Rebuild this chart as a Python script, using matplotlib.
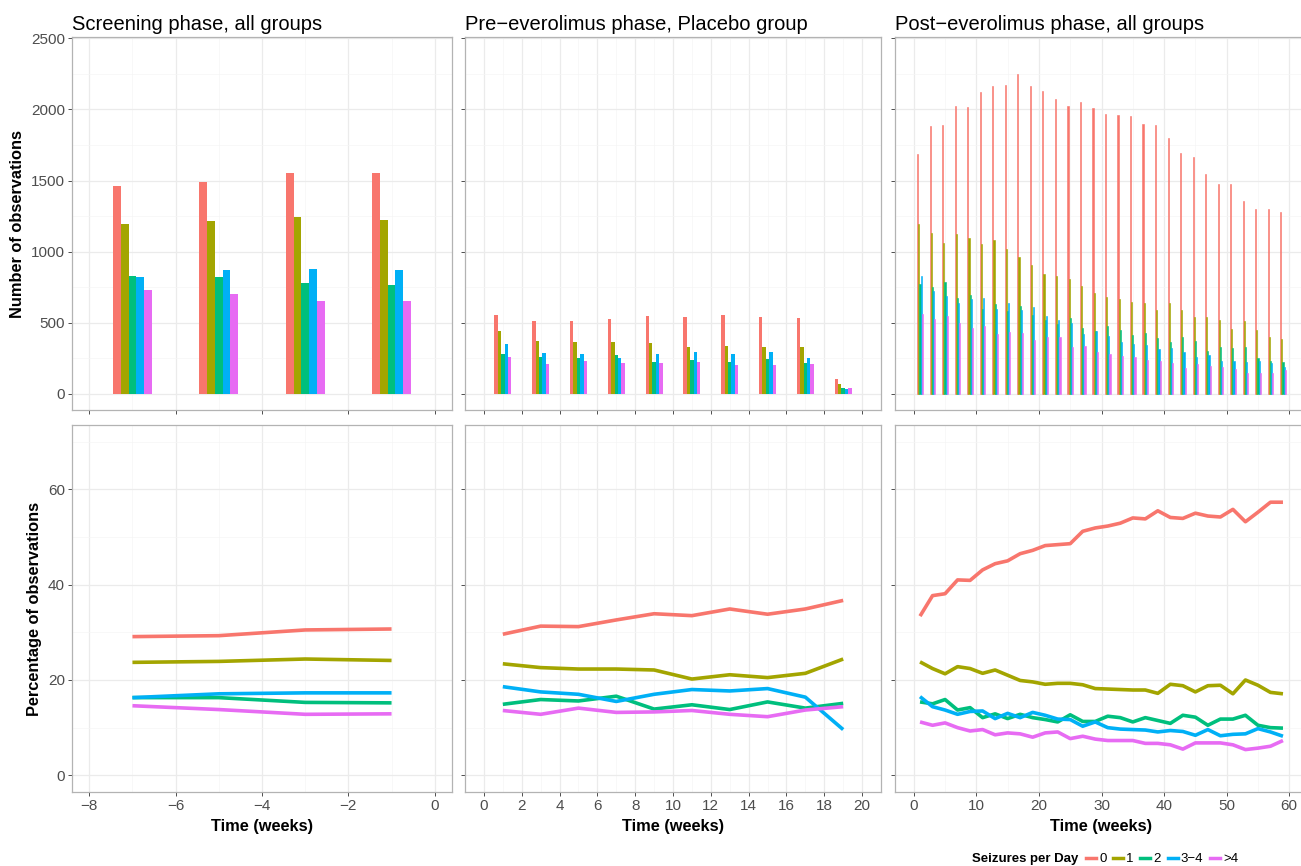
import matplotlib
matplotlib.use('Agg')
import matplotlib.pyplot as plt
from matplotlib.lines import Line2D
from matplotlib.ticker import MultipleLocator

plt.rcParams['font.family'] = ['Liberation Sans', 'DejaVu Sans']

categories = ['0', '1', '2', '3\u22124', '>4']
colors = ['#F8766D', '#A3A500', '#00BF7D', '#00B0F6', '#E76BF3']
titles = ['Screening phase, all groups',
          'Pre\u2212everolimus phase, Placebo group',
          'Post\u2212everolimus phase, all groups']

# screening phase (rows follow categories)
screen_weeks = [-7, -5, -3, -1]
screen_counts = [
    [1458, 1493, 1550, 1554],
    [1194, 1215, 1241, 1220],
    [826, 824, 780, 768],
    [819, 871, 878, 871],
    [733, 698, 651, 651],
]
screen_pct = [
    [29.1, 29.3, 30.5, 30.7],
    [23.7, 23.9, 24.4, 24.1],
    [16.3, 16.3, 15.3, 15.2],
    [16.3, 17.1, 17.3, 17.3],
    [14.6, 13.8, 12.8, 12.9],
]

# pre-everolimus phase, placebo group
pre_weeks = [1, 3, 5, 7, 9, 11, 13, 15, 17, 19]
pre_counts = [
    [557, 510, 508, 527, 548, 541, 555, 541, 531, 101],
    [440, 372, 365, 363, 360, 325, 335, 328, 325, 66],
    [281, 257, 253, 269, 225, 239, 220, 246, 213, 42],
    [349, 288, 276, 253, 276, 290, 281, 290, 248, 30],
    [257, 211, 232, 215, 218, 220, 204, 199, 211, 42],
]
pre_pct = [
    [29.6, 31.3, 31.2, 32.6, 33.9, 33.5, 34.9, 33.8, 34.9, 36.7],
    [23.4, 22.6, 22.3, 22.3, 22.1, 20.2, 21.1, 20.5, 21.4, 24.4],
    [14.9, 15.9, 15.6, 16.6, 13.9, 14.8, 13.8, 15.4, 14.1, 15.1],
    [18.6, 17.5, 17.0, 15.5, 17.0, 18.0, 17.7, 18.2, 16.4, 9.6],
    [13.6, 12.8, 14.1, 13.2, 13.3, 13.6, 12.8, 12.3, 13.7, 14.4],
]

# post-everolimus phase
post_weeks = list(range(1, 60, 2))
post_counts = [
    [1690, 1884, 1891, 2026, 2019, 2123, 2164, 2175, 2251, 2164,
     2128, 2076, 2026, 2055, 2012, 1969, 1962, 1953, 1896, 1891,
     1799, 1697, 1664, 1545, 1476, 1476, 1353, 1303, 1299, 1275],
    [1197, 1130, 1059, 1123, 1097, 1050, 1078, 1021, 962, 903,
     841, 827, 810, 761, 706, 682, 668, 647, 637, 590,
     640, 592, 538, 538, 519, 457, 512, 450, 396, 384],
    [775, 751, 789, 675, 697, 597, 633, 585, 618, 557,
     517, 493, 533, 460, 438, 474, 448, 412, 429, 393,
     367, 396, 370, 303, 327, 318, 325, 249, 230, 220],
    [829, 723, 687, 640, 664, 675, 597, 635, 592, 609,
     545, 517, 498, 419, 438, 403, 367, 351, 344, 315,
     320, 291, 261, 273, 230, 232, 225, 232, 218, 190],
    [562, 528, 545, 498, 462, 479, 419, 431, 427, 379,
     396, 396, 327, 336, 296, 277, 268, 261, 237, 232,
     213, 178, 209, 194, 190, 173, 142, 142, 142, 166],
]
post_pct = [
    [33.4, 37.7, 38.1, 41.0, 40.9, 43.1, 44.4, 45.0, 46.5, 47.2,
     48.2, 48.4, 48.6, 51.2, 51.9, 52.3, 52.9, 54.0, 53.8, 55.5,
     54.1, 53.9, 55.0, 54.4, 54.2, 55.8, 53.2, 55.2, 57.3, 57.3],
    [23.8, 22.4, 21.3, 22.8, 22.4, 21.4, 22.1, 21.0, 19.9, 19.6,
     19.1, 19.3, 19.3, 19.0, 18.2, 18.1, 18.0, 17.9, 17.9, 17.2,
     19.1, 18.8, 17.5, 18.8, 18.9, 17.1, 20.0, 18.9, 17.4, 17.1],
    [15.4, 15.0, 15.9, 13.7, 14.2, 12.1, 12.9, 11.9, 12.8, 12.1,
     11.7, 11.2, 12.7, 11.3, 11.3, 12.4, 12.1, 11.2, 12.1, 11.5,
     10.9, 12.6, 12.2, 10.5, 11.8, 11.8, 12.6, 10.5, 10.0, 9.9],
    [16.5, 14.4, 13.7, 12.8, 13.4, 13.5, 11.9, 13.0, 12.1, 13.2,
     12.6, 11.8, 11.7, 10.3, 11.2, 10.0, 9.7, 9.6, 9.5, 9.1,
     9.4, 9.2, 8.4, 9.6, 8.3, 8.6, 8.7, 9.8, 9.1, 8.2],
    [11.2, 10.5, 11.0, 10.0, 9.3, 9.6, 8.5, 8.9, 8.7, 8.0,
     8.9, 9.1, 7.7, 8.2, 7.6, 7.3, 7.3, 7.3, 6.7, 6.7,
     6.4, 5.5, 6.8, 6.8, 6.8, 6.4, 5.4, 5.7, 6.1, 7.3],
]

W, H = 1301, 866
fig = plt.figure(figsize=(W / 100, H / 100), dpi=100)

cols = [(72, 452), (465, 881), (895, 1308)]
rows = [(37, 410), (425, 792)]
xlims = [(-8.4, 0.4), (-1, 21), (-3, 63)]
xmaj = [2, 2, 10]
xmin = [1, 1, 5]


def make_ax(col, row):
    l, r = cols[col]
    t, b = rows[row]
    return fig.add_axes([l / W, 1 - b / H, (r - l) / W, (b - t) / H])


def style(ax, col, ylim, ymaj, ymin, xlabels, ylabels):
    ax.set_xlim(xlims[col])
    ax.set_ylim(ylim)
    ax.xaxis.set_major_locator(MultipleLocator(xmaj[col]))
    ax.xaxis.set_minor_locator(MultipleLocator(xmin[col]))
    ax.yaxis.set_major_locator(MultipleLocator(ymaj))
    ax.yaxis.set_minor_locator(MultipleLocator(ymin))
    ax.grid(which='major', color='#EBEBEB', lw=0.9)
    ax.grid(which='minor', color='#F5F5F5', lw=0.5)
    ax.set_axisbelow(True)
    for s in ax.spines.values():
        s.set_color('#B3B3B3')
        s.set_linewidth(0.9)
    ax.tick_params(which='major', length=3, width=0.7, color='#4D4D4D',
                   labelsize=11, labelcolor='#4D4D4D', pad=2)
    ax.tick_params(which='minor', length=0)
    ax.tick_params(labelbottom=xlabels, labelleft=ylabels)


phases = [
    (screen_weeks, screen_counts, screen_pct),
    (pre_weeks, pre_counts, pre_pct),
    (post_weeks, post_counts, post_pct),
]

bw = 0.18
for c, (weeks, counts, pct) in enumerate(phases):
    ax = make_ax(c, 0)
    edge = 0.4 if c == 2 else 0
    for i in range(len(categories)):
        xs = [w + (i - 2) * bw for w in weeks]
        ax.bar(xs, counts[i], width=bw, color=colors[i],
               edgecolor=colors[i], linewidth=edge)
    style(ax, c, (-115, 2510), 500, 250, False, c == 0)
    ax.set_title(titles[c], loc='left', fontsize=14.5, pad=5)
    if c == 0:
        ax.set_ylabel('Number of observations', fontsize=11.8, fontweight='bold')

    ax2 = make_ax(c, 1)
    for i in range(len(categories)):
        ax2.plot(weeks, pct[i], color=colors[i], lw=2.6,
                 solid_joinstyle='round', solid_capstyle='butt')
    style(ax2, c, (-3.5, 73.5), 20, 10, True, c == 0)
    ax2.set_xlabel('Time (weeks)', fontsize=11.8, fontweight='bold', labelpad=4)
    if c == 0:
        ax2.set_ylabel('Percentage of observations', fontsize=11.8, fontweight='bold')

# legend along the bottom
ly = 1 - 859 / H
fig.text(972 / W, ly, 'Seizures per Day', fontsize=9.5, fontweight='bold',
         va='center', ha='left')
handles = [Line2D([], [], color=col, lw=2.5) for col in colors]
fig.legend(handles, categories, loc='center left',
           bbox_to_anchor=(1086 / W, ly), ncol=5, frameon=False,
           fontsize=9.5, handlelength=0.75, handletextpad=0.25,
           columnspacing=0.5, borderpad=0, borderaxespad=0)

plt.savefig('out.png', dpi=100)
